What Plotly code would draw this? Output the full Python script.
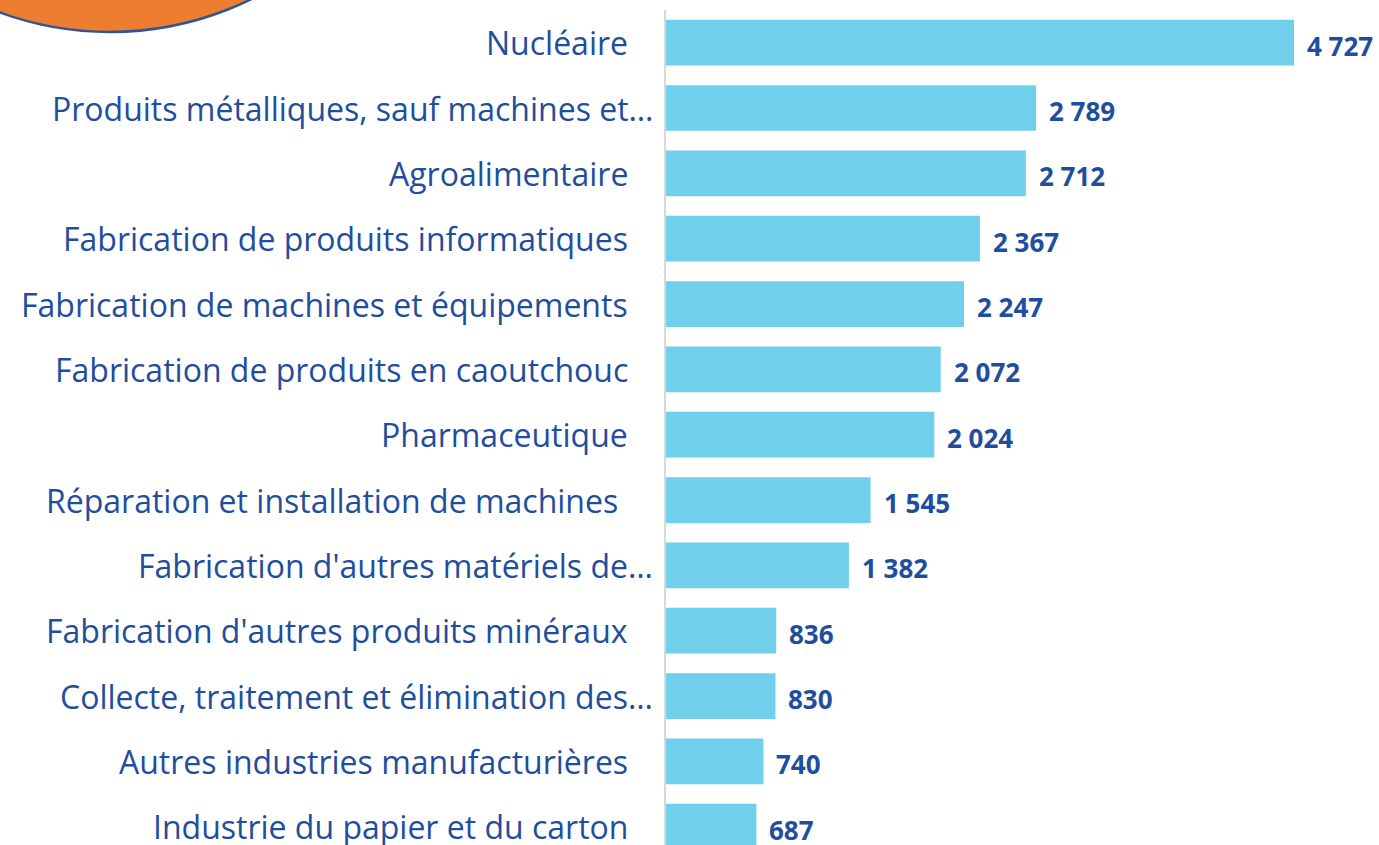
import plotly.graph_objects as go

categories = [
    "Nucléaire",
    "Produits métalliques, sauf machines et…",
    "Agroalimentaire",
    "Fabrication de produits informatiques",
    "Fabrication de machines et équipements",
    "Fabrication de produits en caoutchouc",
    "Pharmaceutique",
    "Réparation et installation de machines ",
    "Fabrication d'autres matériels de…",
    "Fabrication d'autres produits minéraux",
    "Collecte, traitement et élimination des…",
    "Autres industries manufacturières",
    "Industrie du papier et du carton",
]
values = [4727, 2789, 2712, 2367, 2247, 2072, 2024, 1545, 1382, 836, 830, 740, 687]
value_labels = ["4 727", "2 789", "2 712", "2 367", "2 247", "2 072", "2 024",
                "1 545", "1 382", "836", "830", "740", "687"]

W, H = 1379, 845
ML, MT = 665, 10
plot_w = W - ML
plot_h = H - MT
scale = 629 / 4727.0

BAR = "#70CFEB"
TXT = "#1F4E9E"
FONT = "Open Sans, sans-serif"

fig = go.Figure()
fig.add_trace(go.Bar(
    x=values, y=categories, orientation="h",
    marker=dict(color=BAR, line=dict(width=0)),
    hoverinfo="skip",
))

annotations = []
for c, v, lab in zip(categories, values, value_labels):
    if c.endswith("…"):
        shift = -10
    elif c.endswith(" "):
        shift = -45
    else:
        shift = -35
    annotations.append(dict(x=0, y=c, xref="x", yref="y", text=c.rstrip(),
                            showarrow=False, xanchor="right", yanchor="middle",
                            xshift=shift, font=dict(family=FONT, size=32, color=TXT)))
    annotations.append(dict(x=v, y=c, xref="x", yref="y", text="<b>%s</b>" % lab,
                            showarrow=False, xanchor="left", yanchor="middle",
                            xshift=11, yshift=-3,
                            font=dict(family=FONT, size=26, color=TXT)))

def px_x(p):
    return (p - ML) / plot_w

def px_y(p):
    return (H - p) / plot_h

fig.update_layout(
    width=W, height=H,
    margin=dict(l=ML, r=0, t=MT, b=0, pad=0),
    paper_bgcolor="white", plot_bgcolor="white",
    bargap=0.3,
    showlegend=False,
    hovermode=False,
    xaxis=dict(range=[0, plot_w / scale], visible=False, fixedrange=True),
    yaxis=dict(range=[12.28, -0.5], showticklabels=False, showgrid=False,
               zeroline=False, showline=False, ticks="", fixedrange=True),
    annotations=annotations,
    shapes=[
        dict(type="line", xref="paper", yref="paper", x0=0, x1=0,
             y0=0, y1=1, line=dict(color="#D9D9D9", width=2), layer="above"),
        dict(type="circle", xref="paper", yref="paper",
             x0=px_x(110 - 320), x1=px_x(110 + 320), y0=px_y(32), y1=px_y(32 - 640),
             fillcolor="#ED7D31", line=dict(color="#2F5597", width=2.5)),
    ],
)

fig.write_html(
    "out.html",
    config={"displayModeBar": False},
    post_script="document.body.style.margin='0';document.body.style.overflow='hidden';",
)
